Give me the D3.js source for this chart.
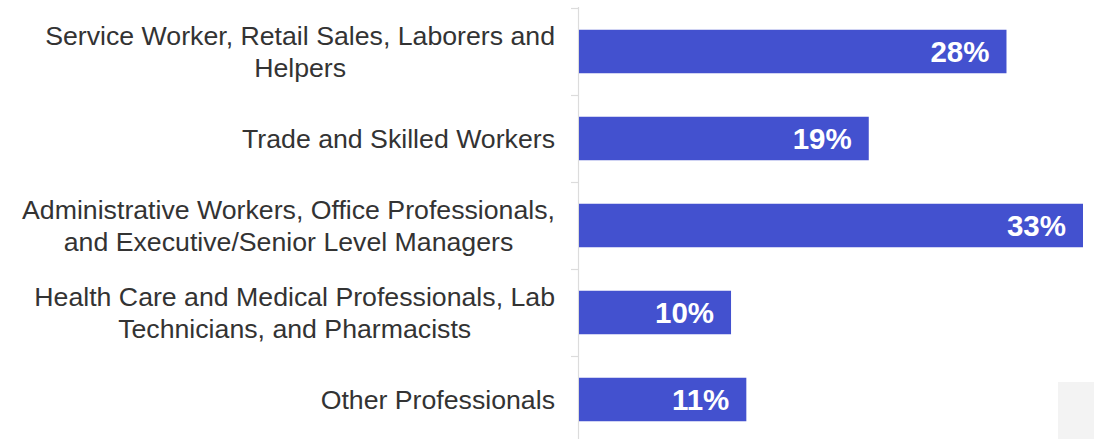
<!DOCTYPE html>
<html>
<head>
<meta charset="utf-8">
<script src="https://cdn.jsdelivr.net/npm/d3@7"></script>
<style>
  html, body { margin: 0; padding: 0; background: #fff; }
  svg { display: block; }
</style>
</head>
<body>
<svg id="chart" width="1094" height="439"></svg>
<script>
const categories = [
  ["Service Worker, Retail Sales, Laborers and", "Helpers"],
  ["Trade and Skilled Workers"],
  ["Administrative Workers, Office Professionals,", "and Executive/Senior Level Managers"],
  ["Health Care and Medical Professionals, Lab", "Technicians, and Pharmacists"],
  ["Other Professionals"]
];
const values = [28, 19, 33, 10, 11];
const valueLabels = ["28%", "19%", "33%", "10%", "11%"];

const svg = d3.select("#chart");
const W = 1094, H = 439;

// light gray corner block
svg.append("rect").attr("x", 1058).attr("y", 382).attr("width", 36).attr("height", 57).attr("fill", "#f3f3f3");

const x = d3.scaleLinear().domain([0, 33]).range([578, 1083]);
const idx = d3.range(categories.length);
const y = d3.scaleBand().domain(idx).range([8, 443]).paddingInner(0.5).paddingOuter(0.25);

// axis line and ticks at band boundaries
const axisColor = "#dcdcdc";
svg.append("line").attr("x1", x(0) + 0.5).attr("x2", x(0) + 0.5).attr("y1", 7).attr("y2", H)
  .attr("stroke", axisColor).attr("stroke-width", 1.2);
const step = y.step();
const boundaries = d3.range(categories.length).map(i => y(i) - step * 0.25);
svg.selectAll("line.tick").data(boundaries).join("line")
  .attr("class", "tick")
  .attr("x1", x(0) - 7).attr("x2", x(0))
  .attr("y1", d => d + 0.5).attr("y2", d => d + 0.5)
  .attr("stroke", axisColor).attr("stroke-width", 1.2);

// bars
svg.selectAll("rect.bar").data(values).join("rect")
  .attr("class", "bar")
  .attr("x", x(0) + 1)
  .attr("y", (d, i) => y(i))
  .attr("width", d => x(d) - x(0) - 1)
  .attr("height", y.bandwidth())
  .attr("fill", "#4351cf");

// value labels
svg.selectAll("text.val").data(values).join("text")
  .attr("class", "val")
  .attr("x", d => x(d) - 17)
  .attr("y", (d, i) => y(i) + y.bandwidth() / 2 + 10.5)
  .attr("text-anchor", "end")
  .attr("font-family", "Liberation Sans, Arial, sans-serif")
  .attr("font-weight", "bold")
  .attr("font-size", 29.5)
  .attr("fill", "#ffffff")
  .text((d, i) => valueLabels[i]);

// category labels: centered lines, block right-aligned at 555
const lineH = 32;
const labelRight = 555;
categories.forEach((lines, i) => {
  const cy = y(i) + y.bandwidth() / 2;
  const g = svg.append("text")
    .attr("font-family", "Liberation Sans, Arial, sans-serif")
    .attr("font-size", 26.7)
    .attr("fill", "#333333")
    .attr("text-anchor", "middle");
  const n = lines.length;
  const tspans = lines.map((l, j) => g.append("tspan")
    .attr("y", cy + 9.5 + (j - (n - 1) / 2) * lineH)
    .text(l));
  const maxW = d3.max(tspans, t => t.node().getComputedTextLength());
  tspans.forEach(t => t.attr("x", labelRight - maxW / 2));
});
</script>
</body>
</html>
